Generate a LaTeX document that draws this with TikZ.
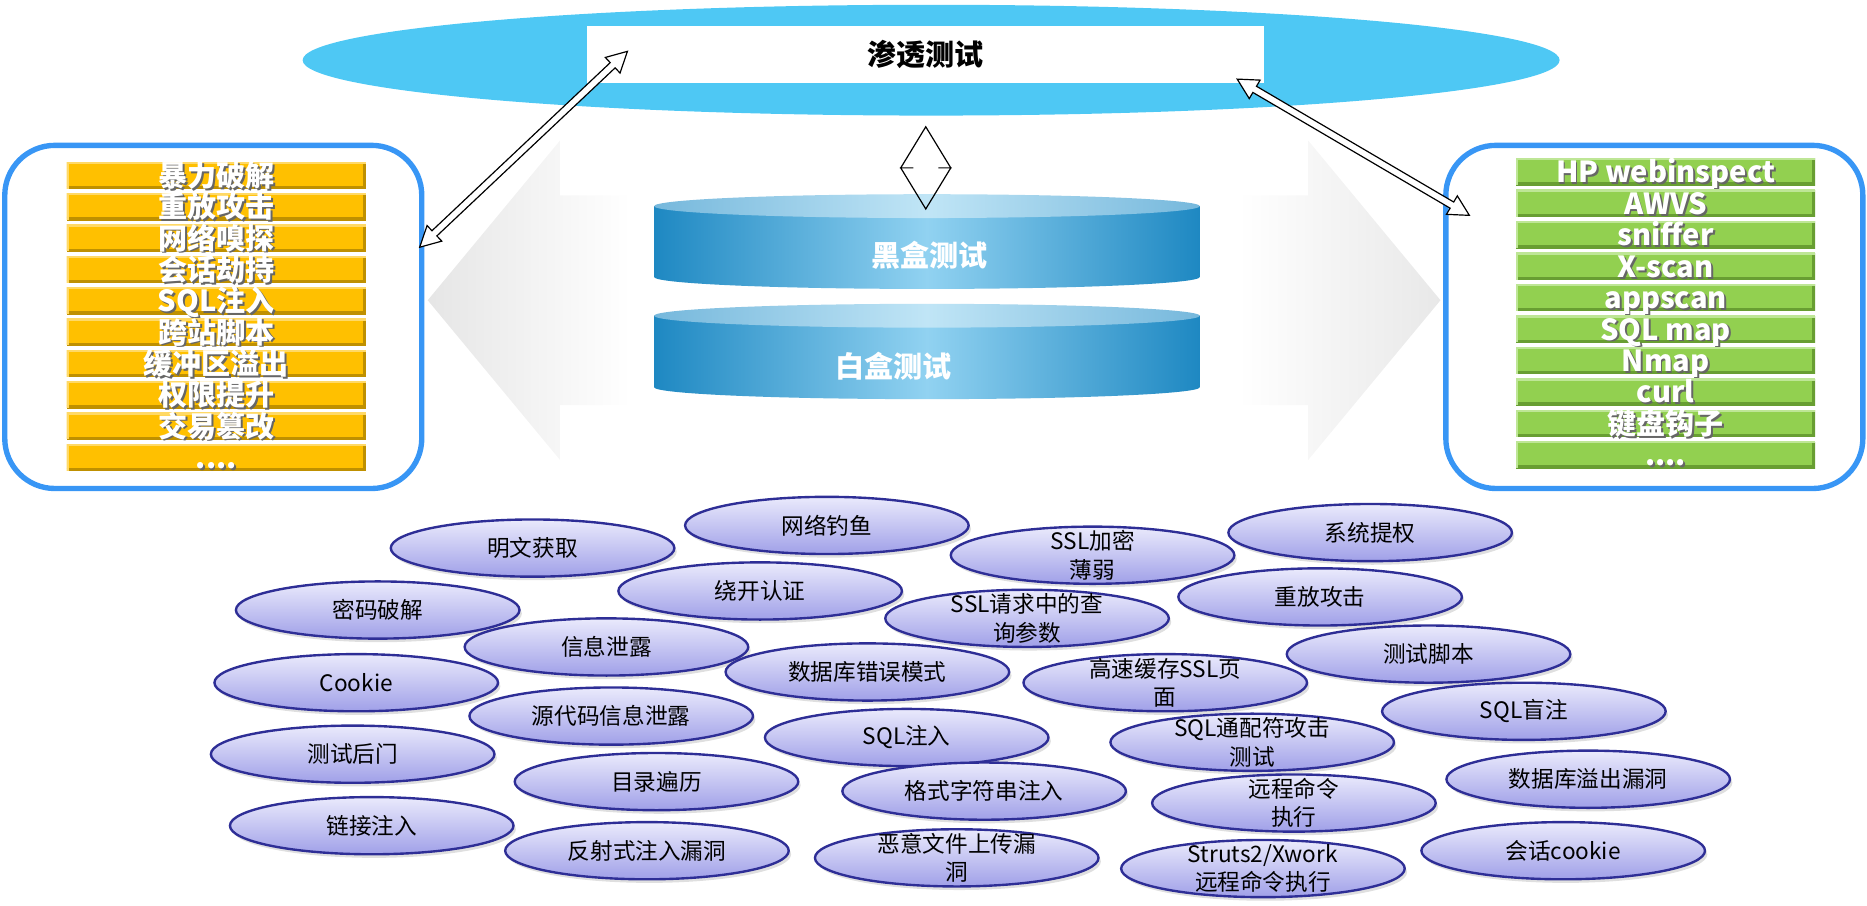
\documentclass[tikz,border=0pt]{standalone}
\usepackage{fontspec}
\setmainfont{Noto Sans CJK SC}
\usetikzlibrary{calc,shapes.geometric,shadows}

\definecolor{ptblue}{RGB}{78,200,244}
\definecolor{boxblue}{RGB}{56,150,245}
\definecolor{barY}{RGB}{255,192,0}
\definecolor{barYd}{RGB}{191,144,0}
\definecolor{barYl}{RGB}{255,217,102}
\definecolor{barG}{RGB}{146,208,80}
\definecolor{barGd}{RGB}{104,158,50}
\definecolor{barGl}{RGB}{190,230,150}
\definecolor{cylDark}{RGB}{30,136,194}
\definecolor{cylLight}{RGB}{145,210,241}
\definecolor{cylTopD}{RGB}{118,184,220}
\definecolor{cylTopL}{RGB}{192,229,246}
\definecolor{ovTop}{RGB}{234,234,252}
\definecolor{ovBot}{RGB}{160,160,232}
\definecolor{ovLine}{RGB}{46,46,150}

\pgfdeclarehorizontalshading{bgfade}{100bp}{color(0bp)=(black!10); color(25bp)=(black!10); color(35bp)=(white); color(65bp)=(white); color(75bp)=(black!9); color(100bp)=(black!9)}

\newcommand\shtext[1]{\rlap{\hspace{0.8pt}\raisebox{-0.8pt}{\textcolor{black!60}{#1}}}#1}
\newcommand\fourdots{....}

% hollow double arrow: [style]{from}{to}{head length}{head half width}{shaft half width}
\newcommand\dblarrow[6][fill=white]{%
  \draw[black, line width=0.5pt, #1] (#2)
    -- ($($(#2)!#4!(#3)$)!#5!90:(#3)$)
    -- ($($(#2)!#4!(#3)$)!#6!90:(#3)$)
    -- ($($(#3)!#4!(#2)$)!#6!-90:(#2)$)
    -- ($($(#3)!#4!(#2)$)!#5!-90:(#2)$)
    -- (#3)
    -- ($($(#3)!#4!(#2)$)!#5!90:(#2)$)
    -- ($($(#3)!#4!(#2)$)!#6!90:(#2)$)
    -- ($($(#2)!#4!(#3)$)!#6!-90:(#3)$)
    -- ($($(#2)!#4!(#3)$)!#5!-90:(#3)$)
    -- cycle;}

\tikzset{
  listbox/.style={draw=boxblue, line width=2.25pt, rounded corners=21pt,
    minimum width=175pt, minimum height=144pt, inner sep=0pt},
  bar/.style n args={3}{fill=#1, minimum width=125.5pt, minimum height=11.2pt,
    inner sep=0pt, text=white, font=\fontsize{12.2}{14}\selectfont\bfseries,
    text height=9.2pt, text depth=0pt,
    path picture={
      \draw[#2, line width=2.4pt] (path picture bounding box.south west)
        -- (path picture bounding box.south east) -- (path picture bounding box.north east);
      \draw[#3, line width=1.6pt] (path picture bounding box.south west)
        -- (path picture bounding box.north west) -- (path picture bounding box.north east);}},
  lbar/.style={bar={barY}{barYd}{barYl}},
  gbar/.style={bar={barG}{barGd}{barGl}},
  cyltxt/.style={text=white, font=\fontsize{12.2}{14}\selectfont\bfseries},
  oval/.style={ellipse, draw=ovLine, line width=1pt, top color=ovTop, bottom color=ovBot,
    minimum width=119pt, minimum height=24pt, inner sep=0pt,
    drop shadow={shadow xshift=1pt, shadow yshift=-1.5pt, opacity=0.25}},
  ovtxt/.style={font=\fontsize{9.5}{11.9}\selectfont, align=center, inner sep=0pt}
}

\begin{document}
\begin{tikzpicture}[x=0.5pt,y=-0.5pt]
\useasboundingbox (0,0) rectangle (1567,759.6);

% background arrow
\shade[shading=bgfade] (359,252) -- (470,118) -- (470,164) -- (1098,164) -- (1098,118)
  -- (1209,252) -- (1098,386) -- (1098,340) -- (470,340) -- (470,386) -- cycle;

% top
\node[ellipse, fill=ptblue, minimum width=527.5pt, minimum height=46.5pt, inner sep=0pt] (ptell) at (781.5,50.5) {};
\node[fill=white, minimum width=284pt, minimum height=24pt, inner sep=0pt,
  font=\fontsize{12.2}{14}\selectfont\bfseries] (title) at (777,46) {渗透测试};

% cylinders
\shade[left color=cylDark, right color=cylDark, middle color=cylLight]
  (549,173) -- (549,232.5) arc[start angle=180, end angle=0, x radius=229, y radius=10] -- (1007,173) -- cycle;
\shade[left color=cylTopD, right color=cylTopD, middle color=cylTopL]
  (778,173) ellipse [x radius=229, y radius=10];
\node[cyltxt] (hhcs) at (780,214) {黑盒测试};

\shade[left color=cylDark, right color=cylDark, middle color=cylLight]
  (549,265) -- (549,325) arc[start angle=180, end angle=0, x radius=229, y radius=10] -- (1007,265) -- cycle;
\shade[left color=cylTopD, right color=cylTopD, middle color=cylTopL]
  (778,265) ellipse [x radius=229, y radius=10];
\node[cyltxt] (bhcs) at (750,307) {白盒测试};

% side boxes
\node[listbox] (lbox) at (179,266) {};
\foreach \t [count=\i] in {暴力破解,重放攻击,网络嗅探,会话劫持,SQL注入,跨站脚本,缓冲区溢出,权限提升,交易篡改,\fourdots}
  \node[lbar] (lb\i) at (181.5,{147.2+(\i-1)*26.3}) {\shtext{\t}};

\node[listbox] (rbox) at (1388.5,266) {};
\foreach \t [count=\i] in {HP webinspect,AWVS,sniffer,X-scan,appscan,SQL map,Nmap,curl,键盘钩子,\fourdots}
  \node[gbar] (rb\i) at (1398,{144.2+(\i-1)*26.4}) {\shtext{\t}};

% connectors
\coordinate (la) at ($(lbox.north east)!0.3!(lbox.south east)+(-4,0)$);
\coordinate (lt) at ($(title.north west)+(34,21.5)$);
\coordinate (rt) at ($(title.south east)+(-23,-4)$);
\coordinate (ra) at ($(rbox.north west)+(22,61)$);
\coordinate (dt) at ($(title.south)+(0,36)$);
\coordinate (db) at ($(title.south)+(0,105)$);

\dblarrow{la}{lt}{8.5pt}{4.5pt}{1.5pt}
\dblarrow{rt}{ra}{8.5pt}{4.5pt}{1.5pt}
\dblarrow[fill=none]{dt}{db}{17.25pt}{10.5pt}{5.25pt}

% ovals
\foreach \x/\y/\t [count=\i] in {447/460/明文获取, 694/441/网络钓鱼, 917/466/{SSL加密\\薄弱},
  1150/447/系统提权, 317/512/密码破解, 638/496/绕开认证, 862/519/{SSL请求中的查\\询参数},
  1108/501/重放攻击, 509/543/信息泄露, 299/573/Cookie, 728/564/数据库错误模式,
  978/573/{高速缓存SSL页\\面}, 1199/549/测试脚本, 513/601/源代码信息泄露, 296/633/测试后门,
  761/619/SQL注入, 1051/623/{SQL通配符攻击\\测试}, 1279/597/SQL盲注, 551/656/目录遍历,
  826/664/格式字符串注入, 1086/674/{远程命令\\执行}, 1333/654/数据库溢出漏洞, 312/693/链接注入,
  543/714/反射式注入漏洞, 803/720/{恶意文件上传漏\\洞}, 1060/729/{Struts2/Xwork\\远程命令执行},
  1312/714/会话cookie}
{
  \node[oval] (o\i) at (\x,\y) {};
  \node[ovtxt] (t\i) at (o\i) {\t};
}
\end{tikzpicture}
\end{document}
